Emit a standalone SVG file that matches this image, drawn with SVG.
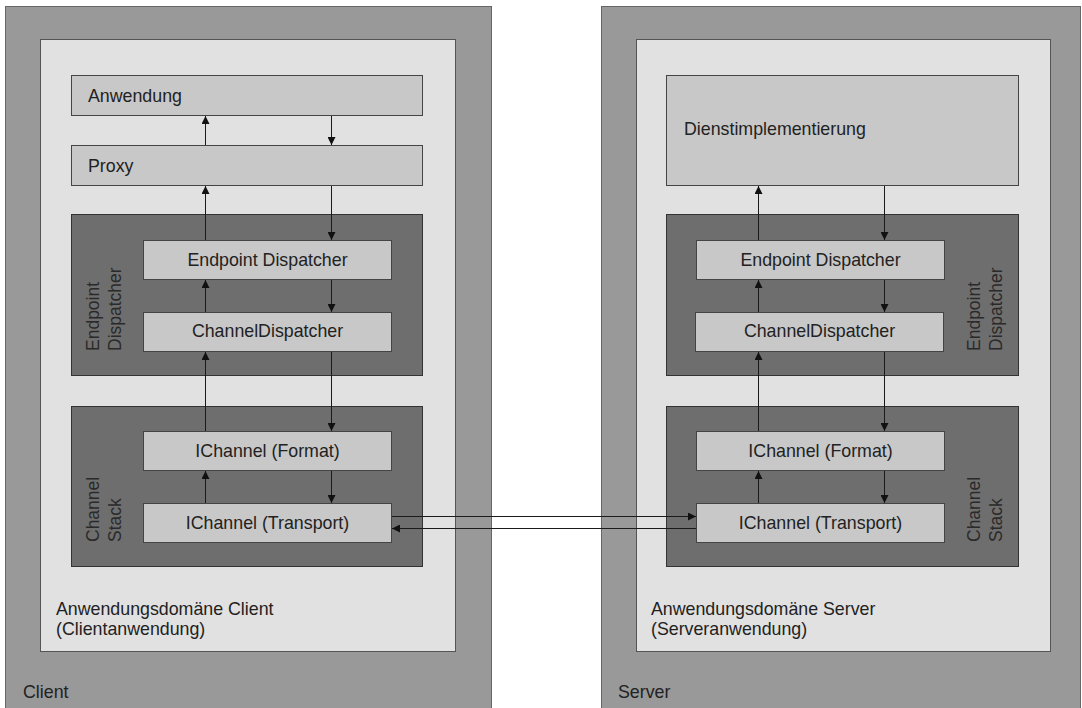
<svg xmlns="http://www.w3.org/2000/svg" width="1082" height="708" viewBox="0 0 1082 708">
<style>
text{font-family:"Liberation Sans",Arial,sans-serif;font-size:17.8px;fill:#222}
.outer{fill:#999;stroke:#666;stroke-width:1}
.inner{fill:#e1e1e1;stroke:#555;stroke-width:1}
.box{fill:#c8c8c8;stroke:#444;stroke-width:1}
.grp{fill:#6e6e6e;stroke:#333;stroke-width:1}
text.vl{fill:#2a2a2a;font-size:17.5px}
.c{text-anchor:middle}
.conn line{stroke:#1a1a1a;stroke-width:1;fill:none}
</style>
<defs>
<marker id="ah" markerWidth="8" markerHeight="8" refX="8" refY="4" orient="auto" markerUnits="userSpaceOnUse">
<path d="M0,0 L8,4 L0,8 z" fill="#111"/>
</marker>
</defs>
<rect width="1082" height="708" fill="#fff"/>

<g id="client">
<rect class="outer" x="5.5" y="6.5" width="486" height="710"/>
<text x="23" y="698">Client</text>
</g>
<g id="client-domain">
<rect class="inner" x="40.5" y="39.5" width="415" height="612"/>
<text x="56" y="615">Anwendungsdomäne Client</text>
<text x="56" y="635">(Clientanwendung)</text>
</g>
<g id="anwendung">
<rect class="box" x="71.5" y="75.5" width="351" height="40"/>
<text x="88" y="101.5">Anwendung</text>
</g>
<g id="proxy">
<rect class="box" x="71.5" y="145.5" width="351" height="40"/>
<text x="88" y="171.5">Proxy</text>
</g>
<g id="client-endpoint-group">
<rect class="grp" x="71.5" y="214.5" width="351" height="161"/>
<text class="vl" transform="translate(99,351) rotate(-90)">Endpoint</text>
<text class="vl" transform="translate(120.5,351) rotate(-90)">Dispatcher</text>
</g>
<g id="client-endpoint-dispatcher">
<rect class="box" x="143.5" y="240.5" width="248" height="39"/>
<text class="c" x="267.5" y="266">Endpoint Dispatcher</text>
</g>
<g id="client-channel-dispatcher">
<rect class="box" x="143.5" y="312.5" width="248" height="39"/>
<text class="c" x="267.5" y="337">ChannelDispatcher</text>
</g>
<g id="client-channel-stack">
<rect class="grp" x="71.5" y="406.5" width="351" height="160"/>
<text class="vl" transform="translate(99,542) rotate(-90)">Channel</text>
<text class="vl" transform="translate(120.5,542) rotate(-90)">Stack</text>
</g>
<g id="client-format">
<rect class="box" x="143.5" y="431.5" width="248" height="39"/>
<text class="c" x="267.5" y="457">IChannel (Format)</text>
</g>
<g id="client-transport">
<rect class="box" x="143.5" y="503.5" width="248" height="39"/>
<text class="c" x="267.5" y="529">IChannel (Transport)</text>
</g>

<g id="server">
<rect class="outer" x="601.5" y="6.5" width="479" height="710"/>
<text x="618" y="698">Server</text>
</g>
<g id="server-domain">
<rect class="inner" x="636.5" y="39.5" width="414" height="612"/>
<text x="651" y="615">Anwendungsdomäne Server</text>
<text x="651" y="635">(Serveranwendung)</text>
</g>
<g id="dienst">
<rect class="box" x="666.5" y="75.5" width="352" height="110"/>
<text x="684" y="135">Dienstimplementierung</text>
</g>
<g id="server-endpoint-group">
<rect class="grp" x="666.5" y="214.5" width="352" height="161"/>
<text class="vl" transform="translate(980,351) rotate(-90)">Endpoint</text>
<text class="vl" transform="translate(1001.5,351) rotate(-90)">Dispatcher</text>
</g>
<g id="server-endpoint-dispatcher">
<rect class="box" x="696.5" y="240.5" width="248" height="39"/>
<text class="c" x="820.5" y="266">Endpoint Dispatcher</text>
</g>
<g id="server-channel-dispatcher">
<rect class="box" x="695.5" y="312.5" width="248" height="39"/>
<text class="c" x="819.5" y="337">ChannelDispatcher</text>
</g>
<g id="server-channel-stack">
<rect class="grp" x="666.5" y="406.5" width="352" height="160"/>
<text class="vl" transform="translate(980,542) rotate(-90)">Channel</text>
<text class="vl" transform="translate(1001.5,542) rotate(-90)">Stack</text>
</g>
<g id="server-format">
<rect class="box" x="696.5" y="431.5" width="248" height="39"/>
<text class="c" x="820.5" y="457">IChannel (Format)</text>
</g>
<g id="server-transport">
<rect class="box" x="696.5" y="503.5" width="248" height="39"/>
<text class="c" x="820.5" y="529">IChannel (Transport)</text>
</g>

<g id="connectors" class="conn">
<line x1="205.5" y1="145" x2="205.5" y2="116" marker-end="url(#ah)"/>
<line x1="205.5" y1="240" x2="205.5" y2="186" marker-end="url(#ah)"/>
<line x1="205.5" y1="312" x2="205.5" y2="280" marker-end="url(#ah)"/>
<line x1="205.5" y1="431" x2="205.5" y2="352" marker-end="url(#ah)"/>
<line x1="205.5" y1="503" x2="205.5" y2="471" marker-end="url(#ah)"/>
<line x1="331.5" y1="116" x2="331.5" y2="145" marker-end="url(#ah)"/>
<line x1="331.5" y1="186" x2="331.5" y2="240" marker-end="url(#ah)"/>
<line x1="331.5" y1="280" x2="331.5" y2="312" marker-end="url(#ah)"/>
<line x1="331.5" y1="352" x2="331.5" y2="431" marker-end="url(#ah)"/>
<line x1="331.5" y1="471" x2="331.5" y2="503" marker-end="url(#ah)"/>

<line x1="758.5" y1="240" x2="758.5" y2="186" marker-end="url(#ah)"/>
<line x1="758.5" y1="312" x2="758.5" y2="280" marker-end="url(#ah)"/>
<line x1="758.5" y1="431" x2="758.5" y2="352" marker-end="url(#ah)"/>
<line x1="758.5" y1="503" x2="758.5" y2="471" marker-end="url(#ah)"/>
<line x1="884.5" y1="186" x2="884.5" y2="240" marker-end="url(#ah)"/>
<line x1="884.5" y1="280" x2="884.5" y2="312" marker-end="url(#ah)"/>
<line x1="884.5" y1="352" x2="884.5" y2="431" marker-end="url(#ah)"/>
<line x1="884.5" y1="471" x2="884.5" y2="503" marker-end="url(#ah)"/>

<line x1="392" y1="516.5" x2="696" y2="516.5" marker-end="url(#ah)"/>
<line x1="696" y1="528.5" x2="392" y2="528.5" marker-end="url(#ah)"/>
</g>
</svg>
